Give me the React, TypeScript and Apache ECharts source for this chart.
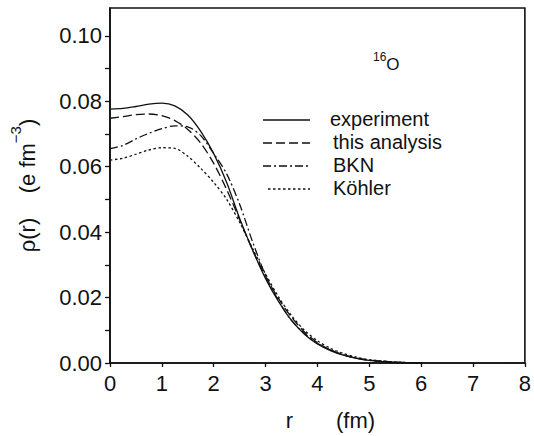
import React, { useEffect, useRef } from "react";
import * as echarts from "echarts";

// radius r (fm)
const rValues = [0, 0.25, 0.5, 0.75, 1.0, 1.25, 1.5, 1.75, 2.0, 2.25, 2.5, 2.75, 3.0, 3.25, 3.5, 3.75, 4.0, 4.25, 4.5, 4.75, 5.0, 5.5, 6.0];

// charge density rho(r) (e fm^-3)
const experiment = [0.0776, 0.0778, 0.0784, 0.0791, 0.0794, 0.0786, 0.0758, 0.0708, 0.064, 0.0552, 0.0442, 0.0345, 0.0258, 0.0188, 0.013, 0.0088, 0.0058, 0.0038, 0.0024, 0.0014, 0.0008, 0.0002, 0.0];
const thisAnalysis = [0.0748, 0.0753, 0.0759, 0.0761, 0.0756, 0.0741, 0.0714, 0.0672, 0.061, 0.053, 0.0438, 0.0345, 0.0265, 0.0197, 0.014, 0.0095, 0.0062, 0.004, 0.0025, 0.0015, 0.0009, 0.0003, 0.0];
const bkn = [0.0655, 0.0665, 0.0685, 0.0702, 0.0716, 0.0725, 0.0722, 0.0695, 0.064, 0.0578, 0.0485, 0.037, 0.0268, 0.019, 0.013, 0.009, 0.006, 0.004, 0.0025, 0.0015, 0.0008, 0.0002, 0.0];
const kohler = [0.062, 0.0626, 0.0638, 0.0651, 0.0658, 0.0656, 0.0632, 0.0595, 0.0552, 0.05, 0.043, 0.035, 0.0272, 0.0202, 0.0145, 0.01, 0.0068, 0.0045, 0.0029, 0.0018, 0.001, 0.0003, 0.0];

const seriesNames = ["experiment", "this analysis", "BKN", "Köhler"];
const seriesValues = [experiment, thisAnalysis, bkn, kohler];
const dashStyles: any[] = ["solid", [9, 4], [8, 3, 2, 3], [2.5, 2.5]];
const legendDash: any[] = [null, [9, 4], [8, 3, 2, 3], [2.5, 2.5]];

const FONT = "Liberation Sans";
const INK = "#111";

export default function App() {
  const ref = useRef<HTMLDivElement>(null);
  useEffect(() => {
    if (!ref.current) return;
    const chart = echarts.init(ref.current, null, { renderer: "svg" });
    const series = seriesNames.map((name, i) => ({
      name,
      type: "line",
      smooth: 0.3,
      showSymbol: false,
      symbol: "none",
      data: rValues.map((r, j) => [r, seriesValues[i][j]]),
      lineStyle: { color: INK, width: 1.3, type: dashStyles[i] },
      itemStyle: { color: INK },
    }));

    // legend drawn as graphic (line sample + label)
    const legendRowsY = [119, 142, 165, 188];
    const legendTextX = [330, 333, 333, 333];
    const legendLineX0 = [263, 263, 263, 268];
    const legendGraphics: any[] = [];
    seriesNames.forEach((name, i) => {
      legendGraphics.push({
        type: "line",
        shape: { x1: legendLineX0[i], y1: legendRowsY[i] + 1, x2: 310, y2: legendRowsY[i] + 1 },
        style: { stroke: INK, lineWidth: 1.3, lineDash: legendDash[i] },
      });
      legendGraphics.push({
        type: "text",
        x: legendTextX[i],
        y: legendRowsY[i],
        style: {
          text: name,
          fontSize: 20,
          lineHeight: 21,
          fontFamily: FONT,
          fill: INK,
          verticalAlign: "middle",
          align: "left",
        },
      });
    });

    chart.setOption({
      animation: false,
      backgroundColor: "#fff",
      textStyle: { fontFamily: FONT },
      grid: {
        left: 108,
        right: 6,
        top: 8,
        bottom: 68.5,
        show: true,
        borderColor: INK,
        borderWidth: 1.6,
        backgroundColor: "transparent",
      },
      xAxis: {
        type: "value",
        min: 0,
        max: 8,
        interval: 1,
        name: "r       (fm)",
        nameLocation: "middle",
        nameGap: 46,
        nameTextStyle: { fontSize: 22, color: INK, fontFamily: FONT, padding: [0, 0, 0, 26] },
        axisLine: { lineStyle: { color: INK, width: 1.6 } },
        axisTick: { show: true, length: 4, inside: false, lineStyle: { color: INK, width: 1.3 } },
        axisLabel: { fontSize: 22, color: INK, fontFamily: FONT, margin: 9 },
        splitLine: { show: false },
      },
      yAxis: {
        type: "value",
        min: 0,
        max: 0.1085,
        interval: 0.01,
        name: "{a|ρ(r)    (e fm}{s|−3}{a|)}",
        nameLocation: "middle",
        nameRotate: 90,
        nameGap: 72,
        nameTextStyle: {
          fontSize: 22,
          color: INK,
          fontFamily: FONT,
          padding: [0, 0, 0, 0],
          rich: {
            a: { fontSize: 22, color: INK, fontFamily: FONT, lineHeight: 30, verticalAlign: "bottom" },
            s: { fontSize: 15, color: INK, fontFamily: FONT, lineHeight: 30, verticalAlign: "top" },
          },
        },
        axisLine: { show: true, lineStyle: { color: INK, width: 1.6 } },
        axisTick: { show: true, length: 5, lineStyle: { color: INK, width: 1.3 } },
        axisLabel: {
          fontSize: 22,
          color: INK,
          fontFamily: FONT,
          margin: 8,
          showMaxLabel: false,
          formatter: (v: number) => {
            const k = Math.round(v / 0.02);
            if (Math.abs(v - k * 0.02) > 1e-6) return "";
            return v.toFixed(2);
          },
        },
        splitLine: { show: false },
      },
      graphic: [
        {
          type: "text",
          left: 373,
          top: 51,
          style: {
            text: "{s|16}{b|O}",
            rich: {
              s: { fontSize: 12, fontFamily: FONT, fill: INK, lineHeight: 22, verticalAlign: "top" },
              b: { fontSize: 17, fontFamily: FONT, fill: INK, lineHeight: 22, verticalAlign: "bottom" },
            },
          },
        },
        ...legendGraphics,
      ],
      series,
    });
    return () => chart.dispose();
  }, []);
  return (
    <div
      ref={ref}
      style={{ position: "fixed", left: 0, top: 0, width: 534, height: 436, background: "#fff" }}
    />
  );
}
